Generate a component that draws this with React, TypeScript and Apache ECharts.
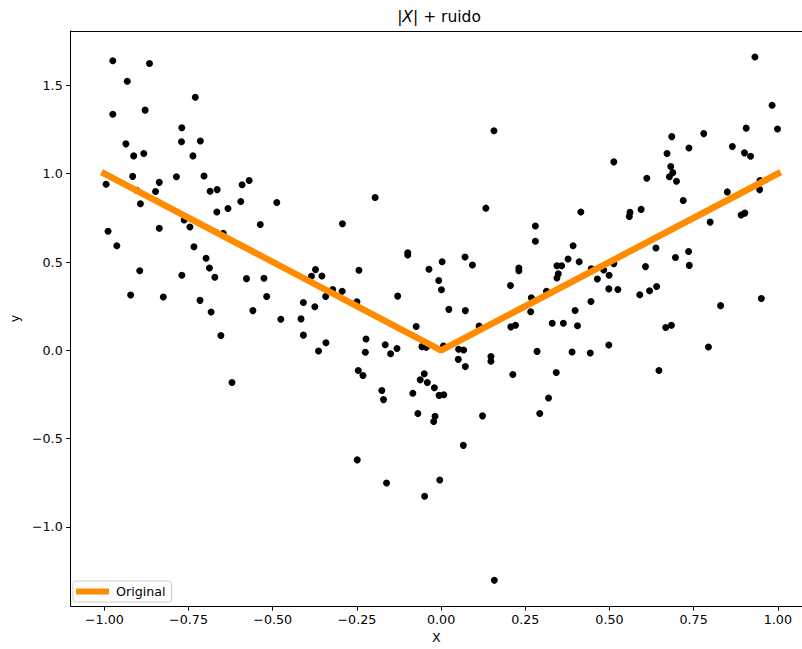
import React, { useEffect, useRef } from "react";
import * as echarts from "echarts";

const xTicks = [-1.0, -0.75, -0.5, -0.25, 0.0, 0.25, 0.5, 0.75, 1.0];
const yTicks = [-1.0, -0.5, 0.0, 0.5, 1.0, 1.5];

const lineX = [-1, 0, 1];
const lineY = [1, 0, 1];

const pointsX = [
  -0.975, -0.866, -0.932, -0.73, -0.975, -0.879, -0.77, -0.771, -0.715, -0.936,
  -0.913, -0.883, -0.737, -0.995, -0.916, -0.904, -0.837, -0.848, -0.786, -0.704,
  -0.893, -0.686, -0.665, -0.591, -0.57, -0.595, -0.633, -0.666, -0.488, -0.763,
  -0.746, -0.989, -0.837, -0.537, -0.647, -0.963, -0.734, -0.698, -0.688, -0.895,
  -0.77, -0.672, -0.578, -0.526, -0.922, -0.825, -0.716, -0.518, -0.683, -0.559,
  -0.476, -0.654, -0.621, -0.196, -0.293, -0.099, -0.099, -0.373, -0.385, -0.354,
  -0.244, -0.036, 0.003, -0.007, 0.001, -0.322, -0.294, -0.343, -0.409, -0.375,
  -0.25, -0.129, 0.023, -0.416, -0.074, -0.409, -0.342, -0.364, -0.223, -0.225,
  -0.166, -0.131, -0.15, -0.057, -0.044, 0.007, -0.246, -0.232, -0.05, -0.062,
  -0.041, -0.02, -0.006, 0.008, -0.176, -0.171, -0.084, -0.069, -0.018, -0.022,
  -0.249, -0.162, -0.004, -0.049, 0.157, 0.513, 0.133, 0.415, 0.28, 0.28,
  0.392, 0.071, 0.093, 0.377, 0.41, 0.344, 0.358, 0.231, 0.231, 0.348,
  0.344, 0.446, 0.483, 0.513, 0.499, 0.464, 0.206, 0.313, 0.268, 0.498,
  0.525, 0.072, 0.266, 0.445, 0.398, 0.113, 0.207, 0.221, 0.33, 0.363,
  0.405, 0.498, 0.052, 0.067, 0.051, 0.072, 0.148, 0.148, 0.285, 0.389,
  0.443, 0.213, 0.342, 0.319, 0.293, 0.123, 0.066, 0.158, 0.932, 0.983,
  0.906, 0.999, 0.685, 0.78, 0.671, 0.736, 0.865, 0.901, 0.919, 0.682,
  0.688, 0.678, 0.699, 0.611, 0.947, 0.946, 0.85, 0.719, 0.594, 0.561,
  0.559, 0.902, 0.891, 0.799, 0.638, 0.735, 0.696, 0.737, 0.607, 0.64,
  0.619, 0.59, 0.951, 0.83, 0.684, 0.667, 0.794, 0.647,
];

const pointsY = [
  1.64, 1.624, 1.524, 1.433, 1.337, 1.36, 1.26, 1.181, 1.185, 1.169,
  1.101, 1.114, 1.101, 0.94, 0.985, 0.906, 0.951, 0.899, 0.983, 0.987,
  0.83, 0.901, 0.91, 0.938, 0.962, 0.843, 0.803, 0.783, 0.837, 0.738,
  0.698, 0.674, 0.691, 0.712, 0.663, 0.592, 0.586, 0.521, 0.466, 0.451,
  0.425, 0.414, 0.406, 0.408, 0.313, 0.302, 0.283, 0.305, 0.217, 0.225,
  0.176, 0.084, -0.182, 0.865, 0.717, 0.553, 0.54, 0.457, 0.419, 0.421,
  0.453, 0.459, 0.502, 0.395, 0.343, 0.344, 0.335, 0.305, 0.271, 0.247,
  0.275, 0.307, 0.232, 0.178, 0.135, 0.086, 0.043, -0.004, 0.064, -0.011,
  0.032, 0.01, -0.019, 0.021, 0.017, 0.024, -0.114, -0.142, -0.133, -0.167,
  -0.182, -0.212, -0.255, -0.251, -0.227, -0.279, -0.243, -0.358, -0.373, -0.403,
  -0.62, -0.751, -0.734, -0.826, 1.243, 1.067, 0.805, 0.783, 0.704, 0.618,
  0.592, 0.528, 0.483, 0.517, 0.502, 0.479, 0.479, 0.466, 0.451, 0.433,
  0.41, 0.462, 0.455, 0.491, 0.425, 0.404, 0.367, 0.335, 0.298, 0.348,
  0.344, 0.225, 0.219, 0.277, 0.226, 0.137, 0.133, 0.142, 0.153, 0.153,
  0.139, 0.03, 0.006, 0.002, -0.051, -0.092, -0.035, -0.062, -0.006, -0.009,
  -0.015, -0.137, -0.125, -0.27, -0.358, -0.371, -0.538, -1.302, 1.661, 1.388,
  1.258, 1.253, 1.21, 1.227, 1.114, 1.146, 1.154, 1.118, 1.099, 1.041,
  1.006, 0.983, 0.957, 0.974, 0.962, 0.91, 0.897, 0.848, 0.798, 0.781,
  0.758, 0.777, 0.766, 0.726, 0.579, 0.56, 0.526, 0.481, 0.474, 0.361,
  0.337, 0.315, 0.294, 0.253, 0.142, 0.129, 0.019, -0.114,
];

const FONT = "DejaVu Sans";
const fmt = (v: number, d: number) => (v < 0 ? "\u2212" : "") + Math.abs(v).toFixed(d);

export default function App() {
  const ref = useRef<HTMLDivElement>(null);
  useEffect(() => {
    if (!ref.current) return;
    const chart = echarts.init(ref.current, null, { renderer: "svg" });
    const scatterData = pointsX.map((x, i) => [x, pointsY[i]]);
    const lineData = lineX.map((x, i) => [x, lineY[i]]);
    const X_MIN = -1.1;
    const X_MAX = 1.0718;
    chart.setOption({
      animation: false,
      backgroundColor: "#ffffff",
      title: {
        text: "|{i|X}| + ruido",
        left: 439,
        top: 9,
        padding: 0,
        textAlign: "center",
        textStyle: {
          fontFamily: FONT,
          fontSize: 15.5,
          fontWeight: "normal",
          color: "#000",
          rich: {
            i: { fontFamily: FONT, fontSize: 15.5, fontStyle: "italic", color: "#000" },
          },
        },
      },
      legend: {
        data: ["Original"],
        left: 73,
        top: 581,
        orient: "vertical",
        padding: [4, 6, 4, 3],
        borderWidth: 1,
        borderColor: "#cccccc",
        borderRadius: 3,
        backgroundColor: "rgba(255,255,255,0.8)",
        icon: "rect",
        itemWidth: 33,
        itemHeight: 6,
        textStyle: { fontFamily: FONT, fontSize: 12.7, color: "#000", padding: [0, 0, 0, 2] },
      },
      grid: {
        left: 66.7,
        top: 31,
        right: 0,
        bottom: 37.3,
        show: false,
      },
      xAxis: [
        {
          type: "value",
          min: X_MIN,
          max: X_MAX,
          name: "X",
          nameLocation: "middle",
          nameGap: 24,
          nameTextStyle: { fontFamily: FONT, fontSize: 12.7, color: "#000" },
          axisLine: { show: true, onZero: false, lineStyle: { color: "#000", width: 1 } },
          axisTick: { show: true, inside: false, length: 4.5, customValues: xTicks, lineStyle: { color: "#000", width: 1 } },
          axisLabel: {
            customValues: xTicks,
            margin: 7,
            fontFamily: FONT,
            fontSize: 12.7,
            color: "#000",
            formatter: (v: number) => fmt(v, 2),
          },
          splitLine: { show: false },
        },
        {
          type: "value",
          position: "top",
          min: X_MIN,
          max: X_MAX,
          axisLine: { show: true, onZero: false, lineStyle: { color: "#000", width: 1 } },
          axisTick: { show: false },
          axisLabel: { show: false },
          splitLine: { show: false },
        },
      ],
      yAxis: {
        type: "value",
        min: -1.448,
        max: 1.808,
        name: "y",
        nameLocation: "middle",
        nameGap: 46,
        nameTextStyle: { fontFamily: FONT, fontSize: 12.7, color: "#000" },
        axisLine: { show: true, onZero: false, lineStyle: { color: "#000", width: 1 } },
        axisTick: { show: true, inside: false, length: 4.5, customValues: yTicks, lineStyle: { color: "#000", width: 1 } },
        axisLabel: {
          customValues: yTicks,
          margin: 8,
          fontFamily: FONT,
          fontSize: 12.7,
          color: "#000",
          formatter: (v: number) => fmt(v, 1),
        },
        splitLine: { show: false },
      },
      series: [
        {
          type: "scatter",
          name: "datos",
          data: scatterData,
          symbol: "circle",
          symbolSize: 7,
          itemStyle: { color: "#000", opacity: 1 },
          z: 2,
        },
        {
          type: "line",
          name: "Original",
          data: lineData,
          showSymbol: false,
          symbol: "none",
          lineStyle: { color: "#ff8c00", width: 6.5, cap: "square" },
          itemStyle: { color: "#ff8c00" },
          z: 3,
        },
      ],
    });
    return () => chart.dispose();
  }, []);
  return (
    <div
      ref={ref}
      style={{ position: "fixed", left: 0, top: 0, width: 802, height: 649 }}
    />
  );
}
